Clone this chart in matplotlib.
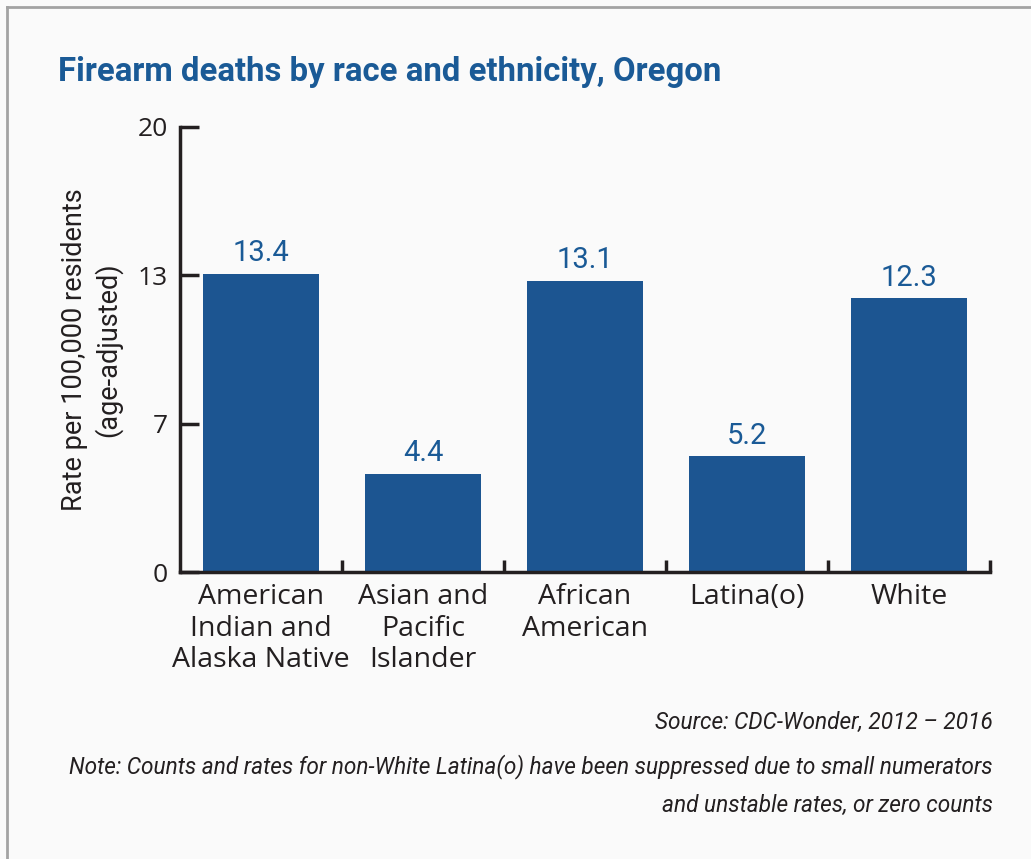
import matplotlib
matplotlib.use("Agg")
import matplotlib.pyplot as plt
from matplotlib.lines import Line2D

categories = ["American\nIndian and\nAlaska Native", "Asian and\nPacific\nIslander",
              "African\nAmerican", "Latina(o)", "White"]
rates = [13.4, 4.4, 13.1, 5.2, 12.3]
ytick_values = [0, 20 / 3, 40 / 3, 20]
ytick_labels = ["0", "7", "13", "20"]

BAR_COLOR = "#1c5591"
TITLE_COLOR = "#1a5a96"
INK = "#231f20"
NARROW = ["Roboto", "DejaVu Sans"]
BODY = ["Open Sans", "DejaVu Sans"]

fig = plt.figure(figsize=(10.31, 8.59), dpi=100, facecolor="#fafafa")
ax = fig.add_axes([180 / 1031, 1 - 572 / 859, 810 / 1031, 445 / 859])
ax.set_facecolor("#fafafa")

x = list(range(len(categories)))
ax.bar(x, rates, width=0.72, color=BAR_COLOR, zorder=2)
for xi, v in zip(x, rates):
    ax.text(xi, v + 0.3, f"{v:.1f}", ha="center", va="bottom", fontsize=21,
            color=TITLE_COLOR, family=NARROW)

ax.set_xlim(-0.5, len(categories) - 0.5)
ax.set_ylim(0, 20)
ax.set_yticks(ytick_values)
ax.set_yticklabels(ytick_labels, family=BODY, fontsize=19)
ax.tick_params(axis="y", direction="in", length=14, width=2.5, pad=9, colors=INK)
ax.set_xticks(x)
ax.set_xticklabels(categories, family=BODY, fontsize=20.5, linespacing=1.17)
ax.tick_params(axis="x", length=0, pad=8, colors=INK)

# boundary ticks between categories
ax.set_xticks([i - 0.5 for i in range(1, len(categories) + 1)], minor=True)
ax.tick_params(axis="x", which="minor", direction="in", length=9, width=2.5, colors=INK)

for side in ["top", "right"]:
    ax.spines[side].set_visible(False)
for side in ["left", "bottom"]:
    ax.spines[side].set_linewidth(2.5)
    ax.spines[side].set_color(INK)

ax.set_ylabel("Rate per 100,000 residents\n(age-adjusted)", family=NARROW, fontsize=19.5,
              color=INK, linespacing=1.25)
ax.yaxis.set_label_coords(-58 / 810, 0.5)

fig.text(58 / 1031, 1 - 72 / 859, "Firearm deaths by race and ethnicity, Oregon",
         family=NARROW, fontweight="bold", fontsize=23.7, color=TITLE_COLOR, va="center")

fig.text(993 / 1031, 1 - 722 / 859, "Source: CDC-Wonder, 2012 \u2013 2016", family=NARROW,
         style="italic", fontsize=16.3, color=INK, ha="right", va="center")
fig.text(993 / 1031, 1 - 767 / 859,
         "Note: Counts and rates for non-White Latina(o) have been suppressed due to small numerators",
         family=NARROW, style="italic", fontsize=16.3, color=INK, ha="right", va="center")
fig.text(993 / 1031, 1 - 805 / 859, "and unstable rates, or zero counts", family=NARROW,
         style="italic", fontsize=16.3, color=INK, ha="right", va="center")

# frame border at top and left
fig.add_artist(Line2D([7 / 1031, 1], [1 - 7 / 859, 1 - 7 / 859], color="#a3a3a3", lw=2,
                      transform=fig.transFigure))
fig.add_artist(Line2D([7 / 1031, 7 / 1031], [0, 1 - 7 / 859], color="#a3a3a3", lw=2,
                      transform=fig.transFigure))

fig.savefig("out.png", dpi=100, facecolor=fig.get_facecolor())
